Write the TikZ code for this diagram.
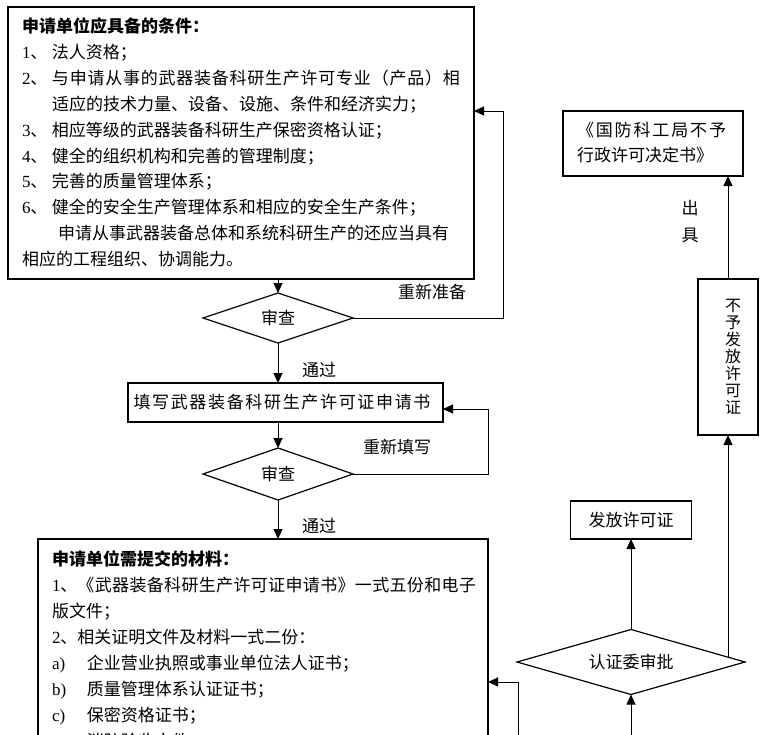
\documentclass[tikz,border=0pt]{standalone}
\usepackage{fontspec}
\setmainfont{Noto Sans CJK SC}
\newfontfamily\lat{Liberation Serif}
\usetikzlibrary{shapes.geometric,arrows.meta,calc}
\newcommand\condnum[1]{\makebox[30pt][l]{{\lat #1}、}}
\newcommand\subnum[1]{\makebox[35pt][l]{\lat #1}}
\newcommand\wide[2]{{\addfontfeature{LetterSpace=#1}#2}}
\begin{document}
\begin{tikzpicture}[x=1pt,y=-1pt,
  every node/.style={inner sep=0pt, outer sep=0pt, font=\fontsize{17}{26}\selectfont},
  box/.style={draw, line width=1.2pt, rectangle, inner sep=0pt},
  dia/.style={draw, line width=1.2pt, diamond, aspect=3, inner sep=0pt},
  arr/.style={line width=1pt, -{Triangle[length=10pt,width=9pt]}},
  lbl/.style={font=\fontsize{17}{26}\selectfont}]
\clip (0,0) rectangle (763,734);
% ---- left column ----
\node[box, minimum width=466pt, minimum height=272pt] (cond) at (241,143) {};
\node[anchor=north west, text width=450pt, align=left, font=\fontsize{17}{25.9}\selectfont] (condtxt) at (22,14.4) {\strut\textbf{申请单位应具备的条件：}\\
\condnum{1}法人资格；\\
\condnum{2}\wide{4.5}{与申请从事的武器装备科研生产许可专业（产品）相}\\
\hspace*{30pt}适应的技术力量、设备、设施、条件和经济实力；\\
\condnum{3}相应等级的武器装备科研生产保密资格认证；\\
\condnum{4}健全的组织机构和完善的管理制度；\\
\condnum{5}完善的质量管理体系；\\
\condnum{6}健全的安全生产管理体系和相应的安全生产条件；\\
\hspace*{36pt}申请从事武器装备总体和系统科研生产的还应当具有\\
相应的工程组织、协调能力。};
\node[dia, minimum width=150pt, minimum height=50pt] (d1) at (278,318) {审查};
\node[box, minimum width=315pt, minimum height=39pt] (fill) at (285.5,402.5) {};
\node (filltxt) at (282,402) {\wide{9.8}{填写武器装备科研生产许可证申请书}};
\node[dia, minimum width=150pt, minimum height=52pt] (d2) at (278,474) {审查};
\node[lbl] (lbl1) at (432,292) {重新准备};
\node[lbl] (pass1) at (319,370) {通过};
\node[lbl] (lbl2) at (397,447) {重新填写};
\node[lbl] (pass2) at (319,526) {通过};
\node[box, anchor=north west, minimum width=450pt, minimum height=260pt] (mat) at (38,539) {};
\node[anchor=north west, text width=430pt, align=left, font=\fontsize{17}{26}\selectfont] (mattxt) at (52,547.3) {\strut\textbf{申请单位需提交的材料：}\\
{\lat 1}、\wide{2}{《武器装备科研生产许可证申请书》一式五份和电子}\\
版文件；\\
{\lat 2}、相关证明文件及材料一式二份：\\
\subnum{a)}企业营业执照或事业单位法人证书；\\
\subnum{b)}质量管理体系认证证书；\\
\subnum{c)}保密资格证书；\\
\subnum{d)}消防验收文件；};
% ---- right column ----
\node[dia, aspect=3.5, minimum width=228pt, minimum height=65pt] (appr) at (631,662) {认证委审批};
\node[box, minimum width=121pt, minimum height=38pt] (issue) at (631,520) {发放许可证};
\node[box, minimum width=60pt, minimum height=156pt] (deny) at (728,357) {};
\node[align=center, font=\fontsize{16}{17}\selectfont] (denytxt) at (733,357) {不\\予\\发\\放\\许\\可\\证};
\node[box, minimum width=180pt, minimum height=65pt] (dec) at (653,143.5) {};
\node[anchor=north west, align=left, font=\fontsize{17}{25}\selectfont] (dectxt) at (577,119) {\strut\wide{11}{《国防科工局不予}\\行政许可决定书》};
\node[align=center, font=\fontsize{17}{27}\selectfont] (chuju) at (690,221.5) {出\\具};
% ---- connectors ----
\coordinate (r1a) at (503,318);
\coordinate (r1b) at (503,111);
\coordinate (r2a) at (488,474);
\coordinate (r2b) at (488,409);
\coordinate (b1) at (631,750);
\coordinate (b2) at (518,750);
\coordinate (b2t) at (518,682);
\coordinate (ap) at ($(appr.east)!0.149!(appr.north)$);
\draw[arr] (cond.south -| d1.north) -- (d1.north);
\draw[arr] (d1.east) -- (r1a) -- (r1b) -- (cond.east |- r1b);
\draw[arr] (d1.south) -- (d1.south |- fill.north);
\draw[arr] (d1.south |- fill.south) -- (d2.north);
\draw[arr] (d2.east) -- (r2a) -- (r2b) -- (fill.east |- r2b);
\draw[arr] (d2.south) -- (d2.south |- mat.north);
\draw[arr] (b1) -- (appr.south);
\draw[arr] (b2) -- (b2t) -- (mat.east |- b2t);
\draw[arr] (appr.north) -- (issue.south);
\draw[arr] (ap) -- (ap |- deny.south);
\draw[arr] (deny.north) -- (deny.north |- dec.south);
\end{tikzpicture}
\end{document}
